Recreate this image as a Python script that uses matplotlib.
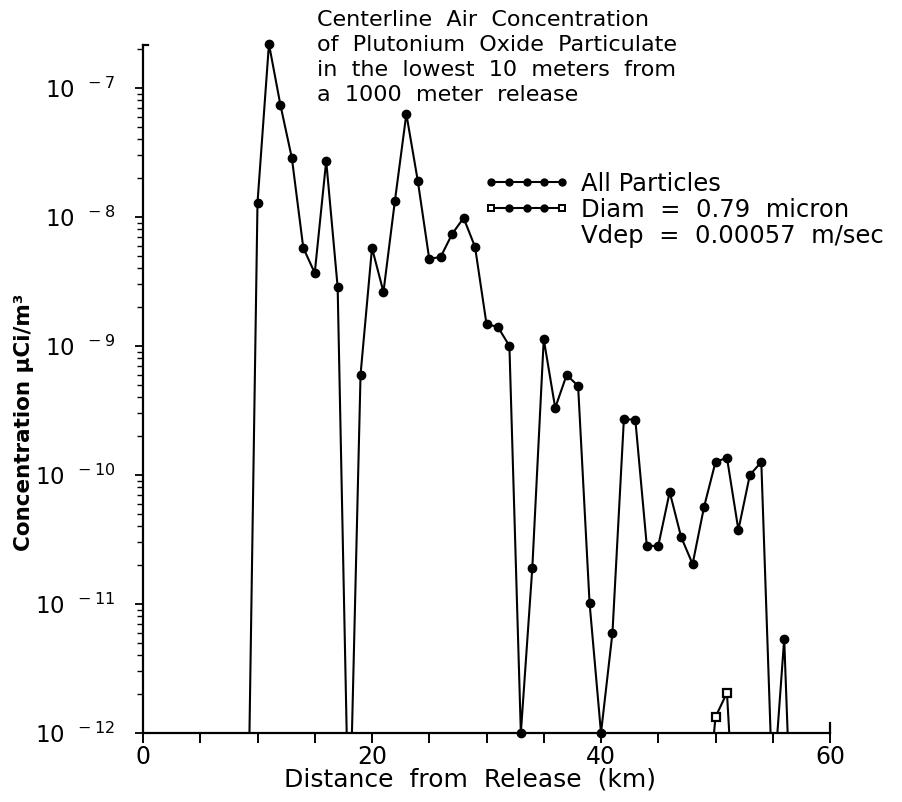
import numpy as np
import matplotlib
matplotlib.use('Agg')
import matplotlib.pyplot as plt
from matplotlib.ticker import FixedLocator, FuncFormatter, NullFormatter
from matplotlib.lines import Line2D
from matplotlib.legend_handler import HandlerLine2D

# ---- data ----
distance_km = list(range(9, 58))
all_particles = [
    1.8e-14, 1.29e-8, 2.19e-7, 7.38e-8, 2.86e-8, 5.75e-9, 3.68e-9, 2.72e-8,
    2.86e-9, 1.2e-13, 6.0e-10, 5.75e-9, 2.62e-9, 1.33e-8, 6.28e-8, 1.90e-8,
    4.72e-9, 4.90e-9, 7.38e-9, 9.82e-9, 5.85e-9, 1.48e-9, 1.40e-9, 1.0e-9,
    1.0e-12, 1.90e-11, 1.13e-9, 3.31e-10, 5.96e-10, 4.90e-10, 1.02e-11, 1.0e-12,
    5.96e-12, 2.72e-10, 2.67e-10, 2.82e-11, 2.82e-11, 7.38e-11, 3.30e-11, 2.04e-11,
    5.65e-11, 1.26e-10, 1.36e-10, 3.75e-11, 1.0e-10, 1.26e-10, 3.2e-13, 5.36e-12,
    2.0e-14,
]
diam_km = [49, 50, 51, 52]
diam_particles = [1.5e-13, 1.33e-12, 2.05e-12, 5.7e-14]

legend_labels = ["All Particles", "Diam  =  0.79  micron", "Vdep  =  0.00057  m/sec"]
title_lines = ["Centerline  Air  Concentration",
               "of  Plutonium  Oxide  Particulate",
               "in  the  lowest  10  meters  from",
               "a  1000  meter  release"]
x_major = [0, 20, 40, 60]
x_minor = list(range(0, 61, 5))
y_major = [1e-12, 1e-11, 1e-10, 1e-9, 1e-8, 1e-7]
y_min, y_max = 1e-12, 2.15e-7

# ---- figure ----
fig = plt.figure(figsize=(9.02, 8.02), dpi=100)
ax = fig.add_axes([143/902, 1-733/802, 687/902, 688/802])

lw = 1.5
ax.plot(distance_km, all_particles, color='black', lw=lw, zorder=3)
vis = [(x, y) for x, y in zip(distance_km, all_particles) if y >= y_min]
ax.plot([p[0] for p in vis], [p[1] for p in vis], linestyle='none', marker='o',
        ms=6, color='black', clip_on=False, zorder=4)

ax.plot(diam_km, diam_particles, color='black', lw=lw, zorder=3)
visd = [(x, y) for x, y in zip(diam_km, diam_particles) if y >= y_min]
ax.plot([p[0] for p in visd], [p[1] for p in visd], linestyle='none', marker='s',
        ms=5.5, mfc='white', mec='black', mew=1.6, clip_on=False, zorder=4)

ax.set_yscale('log')
ax.set_xlim(0, 60)
ax.set_ylim(y_min, y_max)

# spines
ax.spines['right'].set_bounds(1e-12, 1.2e-12)
ax.spines['top'].set_bounds(0, 0.4)
for s in ax.spines.values():
    s.set_linewidth(1.6)

# ticks
ax.xaxis.set_major_locator(FixedLocator(x_major))
ax.xaxis.set_minor_locator(FixedLocator(x_minor))
ax.tick_params(axis='x', which='both', direction='out', length=7, width=1.4,
               labelsize=17, pad=2, top=False)
minor_y = [m * d for d in y_major[:-1] for m in range(2, 10)] + [2e-7]
ax.yaxis.set_major_locator(FixedLocator(y_major))
ax.yaxis.set_minor_locator(FixedLocator(minor_y))
ax.yaxis.set_minor_formatter(NullFormatter())
ax.yaxis.set_major_formatter(FuncFormatter(
    lambda v, p: r'$10^{\ \ %d}$' % int(round(np.log10(v)))))
ax.tick_params(axis='y', which='major', direction='out', length=6, width=1.3,
               labelsize=16.5, pad=14, right=False)
ax.tick_params(axis='y', which='minor', direction='out', length=4, width=1.0,
               right=False)

ax.set_xlabel("Distance  from  Release  (km)", fontsize=18)
ax.xaxis.set_label_coords(0.476, -0.050)
ax.xaxis.label.set_va('top')
ax.set_ylabel("Concentration μCi/m³", fontsize=15.5, fontweight='bold')
ax.yaxis.set_label_coords(-0.158, 0.452)

# title
fig.text(317/902, 1-10/802, "\n".join(title_lines), ha='left', va='top',
         fontsize=16, linespacing=1.32)


# legend: second entry shows open squares at the ends, dots in between
class HandlerEnds(HandlerLine2D):
    def create_artists(self, legend, orig_handle, xdescent, ydescent,
                       width, height, fontsize, trans):
        xdata, xm = self.get_xdata(legend, xdescent, ydescent, width, height,
                                   fontsize)
        y0 = (height - ydescent) / 2
        line = Line2D(xdata, [y0] * len(xdata), color='black', lw=lw,
                      transform=trans)
        mid = Line2D(xm[1:-1], [y0] * (len(xm) - 2), linestyle='none',
                     marker='o', ms=5, color='black', transform=trans)
        ends = Line2D([xm[0], xm[-1]], [y0, y0], linestyle='none',
                      marker='s', ms=4.5, mfc='white', mec='black', mew=1.4,
                      transform=trans)
        return [line, mid, ends]


h1 = Line2D([], [], color='black', lw=lw, marker='o', ms=5)
h2 = Line2D([], [], color='black', lw=lw, marker='s', ms=4.5, mfc='white', mew=1.4)
h3 = Line2D([], [], linestyle='none')
ax.legend([h1, h2, h3], legend_labels, loc='upper left',
          bbox_to_anchor=(484/902, 1-172/802), bbox_transform=fig.transFigure,
          frameon=False, fontsize=17.5, numpoints=5, handlelength=3.5,
          handletextpad=0.5, labelspacing=0.08, borderpad=0, borderaxespad=0,
          handler_map={h2: HandlerEnds()})

fig.savefig('out.png', dpi=100)
